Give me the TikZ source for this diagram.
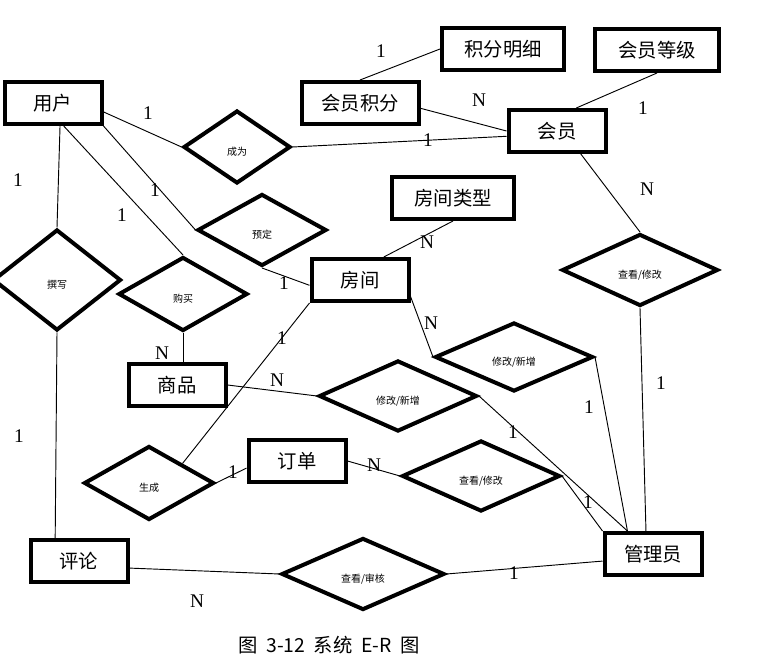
\documentclass[tikz,border=0pt]{standalone}
\usepackage{fontspec}
\setmainfont{Liberation Serif}
\newfontfamily\cjk{Noto Sans CJK SC}
\usetikzlibrary{shapes.geometric}
\tikzset{ent/.style={draw, line width=3pt, inner sep=0pt,
         minimum width=#1*.75pt, minimum height=42*.75pt,
         font=\cjk\fontsize{14.5}{16}\selectfont},
         ent/.default={97},
         rel/.style args={#1/#2}{diamond, draw, line width=3pt, inner sep=0pt,
         minimum width=#1*.75pt, minimum height=#2*.75pt,
         text height=13.5pt, text depth=0pt,
         font=\cjk\fontsize{7.5}{8}\selectfont},
         card/.style={inner sep=0pt, font=\fontsize{14.5}{16}\selectfont}}

\begin{document}
\begin{tikzpicture}[x=.75pt, y=-.75pt, line width=.7pt]
  \useasboundingbox (0,0) rectangle (769,670);

  % entities
  \node[ent] (yh) at (53,103) {用户};
  \node[ent=117] (hyjf) at (360,103) {会员积分};
  \node[ent=122] (jfmx) at (503,49) {积分明细};
  \node[ent=124] (hydj) at (657,50) {会员等级};
  \node[ent] (hy) at (557,131) {会员};
  \node[ent=122] (fjlx) at (453,198) {房间类型};
  \node[ent] (fj) at (360,280) {房间};
  \node[ent] (sp) at (177,385) {商品};
  \node[ent] (dd) at (297,461) {订单};
  \node[ent] (pl) at (79,561) {评论};
  \node[ent] (gly) at (653,554) {管理员};

  % relationships
  \node[rel=107/73] (cw) at (237,147) {成为};
  \node[rel=129/72] (yd) at (262,230) {预定};
  \node[rel=128/101] (zx) at (57,280) {撰写};
  \node[rel=129/74] (gm) at (183,294) {购买};
  \node[rel=156/72] (ckxg) at (640,270) {查看/修改};
  \node[rel=158/69] (xgfj) at (514,357) {修改/新增};
  \node[rel=158/71] (xgsp) at (398,396) {修改/新增};
  \node[rel=158/71] (ckdd) at (481,476) {查看/修改};
  \node[rel=130/74] (sc) at (149,483) {生成};
  \node[rel=163/72] (cksh) at (363,574) {查看/审核};

  % links
  \draw (yh.-10) -- (cw.west);
  \draw (yh.south east) -- (yd.west);
  \draw (yh.-65) -- (gm.north);
  \draw (yh.-73) -- (zx.north);
  \draw (zx.south) -- (pl.136);
  \draw (gm.south) -- (gm.south |- sp.north);
  \draw (yd.south) -- (fj.186);
  \draw (cw.east) -- (hy.186);
  \draw (hyjf.-5) -- (hy.west);
  \draw (hyjf.north) -- (jfmx.west);
  \draw (hy.50) -- (hydj.south);
  \draw (hy.-44) -- (ckxg.north);
  \draw (ckxg.south) -- (gly.107);
  \draw (fjlx.south) -- (fj.44);
  \draw (fj.-18) -- (xgfj.west);
  \draw (xgfj.east) -- (gly.138);
  \draw (sp.east) -- (xgsp.west);
  \draw (xgsp.east) -- (gly.138);
  \draw (fj.south west) -- (sc.north east);
  \draw (sc.east) -- (dd.188);
  \draw (dd.east) -- (ckdd.west);
  \draw (ckdd.east) -- (gly.north west);
  \draw (pl.-8) -- (cksh.west);
  \draw (cksh.east) -- (gly.188);

  % cardinalities
  \foreach \x/\y/\t [count=\i] in {381/51/1, 479/100/N, 428/140/1, 643/108/1,
      647/189/N, 148/113/1, 18/180/1, 155/190/1, 122/215/1, 284/283/1,
      427/242/N, 431/323/N, 282/338/1, 162/353/N, 277/380/N, 19/436/1,
      233/472/1, 374/465/N, 661/383/1, 589/407/1, 513/432/1, 588/502/1,
      514/573/1, 197/601/N}
    \node[card] (c\i) at (\x,\y) {\t};

  \node[font={\cjk\fontsize{14.5}{16}\selectfont\spaceskip=6.5pt\relax}] (cap) at (329,645) {图 3-12 系统 E-R 图};
\end{tikzpicture}
\end{document}
